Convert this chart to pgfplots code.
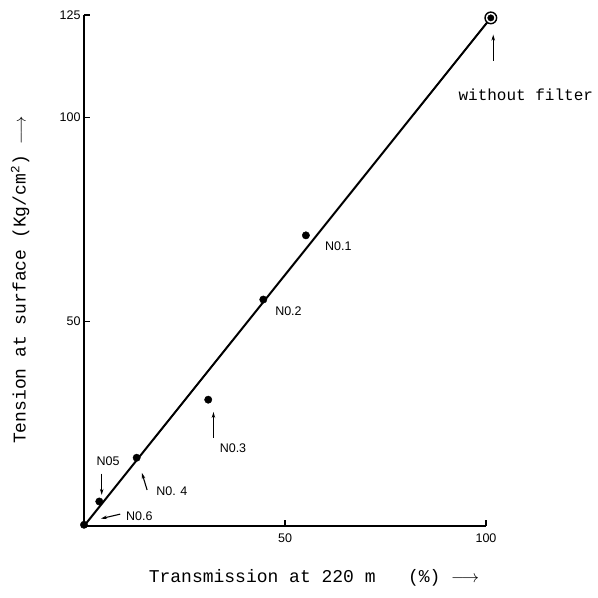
\documentclass[border=0pt]{standalone}
\usepackage{pgfplots}
\pgfplotsset{compat=1.18}
\usetikzlibrary{arrows.meta}
\usepackage{fontspec}
\setmainfont{Liberation Serif}
\newfontfamily\labfont{Liberation Mono}
\newfontfamily\hand{Liberation Sans}
\begin{document}
\begin{tikzpicture}
\begin{axis}[
  scale only axis, width=402pt, height=511pt,
  xmin=0, xmax=100, ymin=0, ymax=125,
  axis x line*=bottom, axis y line*=left,
  axis line style={line width=1.5pt},
  tick align=inside, major tick length=6pt,
  tick style={line width=1.3pt, black},
  xtick={50,100}, ytick={50,100,125},
  /pgf/number format/assume math mode=true,
  tick label style={font=\hand\fontsize{12.5}{12.5}\selectfont},
  xticklabel style={yshift=-4pt},
  clip=false,
  xlabel={\labfont\fontsize{18}{18}\selectfont Transmission at 220 m\ \ \ (\%) $\longrightarrow$},
  ylabel={\labfont\fontsize{18}{18}\selectfont Tension at surface (Kg/cm\textsuperscript{2}) $\longrightarrow$},
  xlabel style={at={(axis description cs:0.572,-0.102)}, anchor=center},
  ylabel style={at={(axis description cs:-0.159,0.481)}, anchor=center},
]
\path (axis description cs:-0.209,-0.1409) rectangle (axis description cs:1.2786,1.0294);
\addplot[black, line width=2pt, no marks] coordinates {(0,0) (101.2,124.3)};
\addplot[black, only marks, mark=*, mark size=3.7pt] coordinates {(0,0.3) (3.8,6.0) (13.1,16.7) (30.9,30.9) (44.6,55.4) (55.2,71.1)};
\addplot[black, only marks, mark=*, mark options={fill=white}, mark size=5.8pt, line width=1.4pt] coordinates {(101.2,124.3)};
\addplot[black, only marks, mark=*, mark size=3.2pt] coordinates {(101.2,124.3)};
% annotations
\node[anchor=west, font=\hand\fontsize{12.5}{12.5}\selectfont] at (axis cs:59.1,68.5) {N0.1};
\node[anchor=west, font=\hand\fontsize{12.5}{12.5}\selectfont] at (axis cs:46.7,52.5) {N0.2};
\node[anchor=west, font=\hand\fontsize{12.5}{12.5}\selectfont] at (axis cs:32.9,19.0) {N0.3};
\draw[-{Stealth[length=6pt,width=3.5pt]}, line width=1.1pt] (axis cs:32.2,21.6) -- (axis cs:32.2,27.9);
\node[anchor=west, font=\hand\fontsize{12.5}{12.5}\selectfont] at (axis cs:17.1,8.4) {N0. 4};
\draw[-{Stealth[length=6pt,width=3.5pt]}, line width=1.1pt] (axis cs:15.7,8.8) -- (axis cs:14.4,13.0);
\node[font=\hand\fontsize{12.5}{12.5}\selectfont] at (axis cs:6.0,15.8) {N05};
\draw[-{Stealth[length=6pt,width=3.5pt]}, line width=1.1pt] (axis cs:4.4,12.8) -- (axis cs:4.4,7.6);
\node[anchor=west, font=\hand\fontsize{12.5}{12.5}\selectfont] at (axis cs:9.6,2.5) {N0.6};
\draw[-{Stealth[length=6pt,width=3.5pt]}, line width=1.1pt] (axis cs:9.0,2.9) -- (axis cs:4.2,1.8);
\node[font=\labfont\fontsize{16}{16}\selectfont] at (axis cs:109.9,105.6) {without filter};
\draw[-{Stealth[length=6pt,width=3.5pt]}, line width=1.1pt] (axis cs:101.8,113.8) -- (axis cs:101.8,120.2);
\end{axis}
\end{tikzpicture}
\end{document}
